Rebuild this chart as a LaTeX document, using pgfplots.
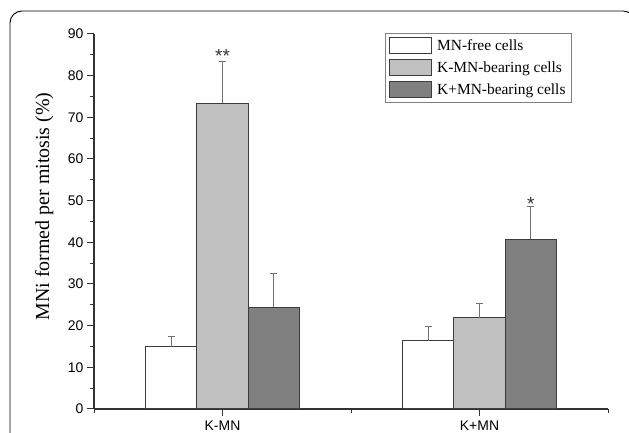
\documentclass[border=0pt]{standalone}
\usepackage{fontspec}
\setmainfont{Liberation Serif}
\newfontfamily\arial{Liberation Sans}
\usepackage{pgfplots}
\pgfplotsset{compat=1.18}
\definecolor{edge}{HTML}{3C3C3C}
\definecolor{lg}{HTML}{C0C0C0}
\definecolor{dg}{HTML}{808080}
\definecolor{errc}{HTML}{707070}
\definecolor{axc}{HTML}{333333}
\begin{document}
\begin{tikzpicture}[x=1bp,y=1bp]
\path[use as bounding box] (0,0) rectangle (629,433);
\clip (0,0) rectangle (629,433);
\draw[black, line width=0.9bp, rounded corners=12bp] (10,-40) -- (10,422) -- (635,422) -- (635,-40);
\begin{axis}[
  at={(94bp,24bp)}, anchor=south west,
  scale only axis, width=514bp, height=375bp,
  xmin=-0.5, xmax=1.5, ymin=0, ymax=90,
  axis lines*=left,
  axis line style={draw=axc, line width=1.2bp},
  tick style={draw=axc, line width=1bp},
  tick align=outside,
  major tick length=7bp, minor tick length=4bp,
  xtick={0,1}, xticklabels={K-MN,K+MN},
  minor xtick={-0.5,0.5,1.5},
  ytick={0,10,...,90}, minor ytick={5,15,...,85},
  /pgf/number format/assume math mode=true,
  yticklabel style={font=\arial\fontsize{14}{16}\selectfont},
  xticklabel style={font=\arial\fontsize{14}{16}\selectfont, yshift=-1.5bp},
  ylabel={MNi formed per mitosis (\%)},
  ylabel style={font=\fontsize{20}{24}\selectfont, at={(axis description cs:-0.097,0.54)}, anchor=center},
  legend style={at={(axis description cs:0.93,1.003)}, anchor=north east,
    draw=dg, line width=1bp, font=\fontsize{15.5}{18}\selectfont,
    inner xsep=4bp, inner ysep=4bp, row sep=5bp, column sep=3bp,
    cells={anchor=west}},
  legend image code/.code={\draw[#1, line width=1bp] (0bp,-8bp) rectangle (42bp,8bp);},
  error bars/y dir=plus, error bars/y explicit,
  error bars/error bar style={draw=errc, line width=1bp},
  error bars/error mark options={draw=errc, line width=1bp, mark size=3.5bp, rotate=90},
]
\addplot[ybar, bar width=51.5bp, fill=white, draw=edge, line width=1bp]
  coordinates {(-0.2,14.9) +- (0,2.6) (0.8,16.4) +- (0,3.4)};
\addlegendentry{MN-free cells}
\addplot[ybar, bar width=51.5bp, fill=lg, draw=edge, line width=1bp]
  coordinates {(0,73.4) +- (0,9.9) (1,21.9) +- (0,3.3)};
\addlegendentry{K-MN-bearing cells}
\addplot[ybar, bar width=51.5bp, fill=dg, draw=edge, line width=1bp]
  coordinates {(0.2,24.4) +- (0,8.1) (1.2,40.7) +- (0,7.8)};
\addlegendentry{K+MN-bearing cells}
\node[font=\arial\fontsize{19}{19}\selectfont, text=axc] at (axis cs:0,84.6) {**};
\node[font=\arial\fontsize{19}{19}\selectfont, text=axc] at (axis cs:1.2,49.3) {*};
\end{axis}
\end{tikzpicture}
\end{document}
